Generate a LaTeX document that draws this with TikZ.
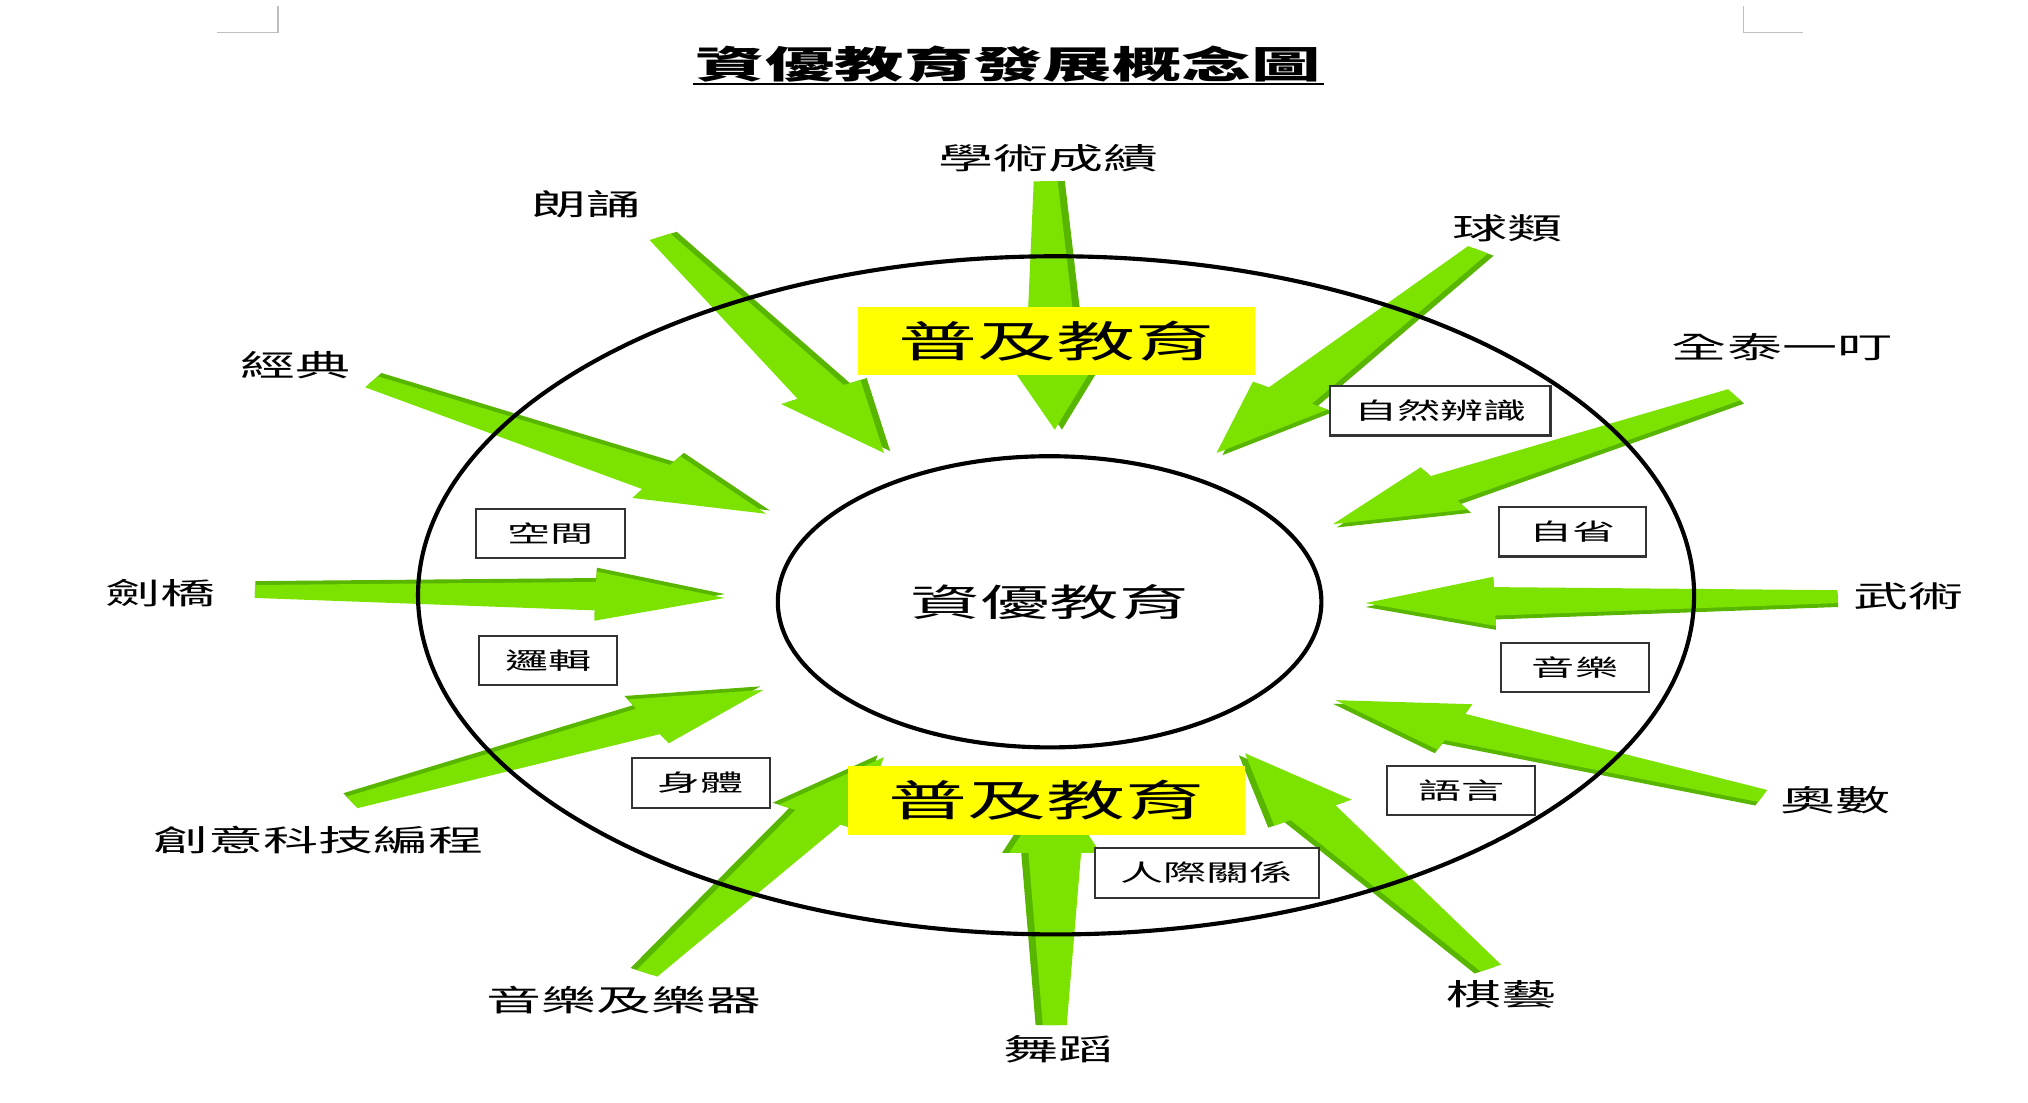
\documentclass[tikz,border=0pt]{standalone}
\usepackage{fontspec}
\newfontfamily\cjk[FakeStretch=1.85]{Noto Sans CJK TC}
\usetikzlibrary{calc,shapes.geometric}
\definecolor{arrowgreen}{RGB}{124,226,0}
\definecolor{arrowdark}{RGB}{88,182,0}
\definecolor{bandyellow}{RGB}{255,255,0}
% block arrow from tail #1 to tip #2 (unstretched frame)
\newcommand\greenarrow[2]{%
  \fill[arrowdark] ($(#1)!4pt!90:(#2)$) -- ($(#2)!27pt!(#1)!7pt!-90:(#1)$) -- ($(#2)!27pt!(#1)!11pt!-90:(#1)$) -- ($(#2)!1.5pt!-90:(#1)$) -- ($(#2)!27pt!(#1)!8pt!90:(#1)$) -- ($(#2)!27pt!(#1)!4pt!90:(#1)$) -- ($(#1)!1pt!-90:(#2)$) -- cycle;
  \fill[arrowgreen] ($(#1)!2.5pt!90:(#2)$) -- ($(#2)!27pt!(#1)!5.5pt!-90:(#1)$) -- ($(#2)!27pt!(#1)!9.5pt!-90:(#1)$) -- (#2) -- ($(#2)!27pt!(#1)!9.5pt!90:(#1)$) -- ($(#2)!27pt!(#1)!5.5pt!90:(#1)$) -- ($(#1)!2.5pt!-90:(#2)$) -- cycle;
}
\begin{document}
\begin{tikzpicture}[x=0.5pt,y=-0.5pt]
        \tikzstyle{topic}=[font=\cjk\fontsize{11.5}{13}\selectfont,inner sep=1pt]
        \tikzstyle{skill}=[draw=black!80,line width=0.8pt,fill=white,minimum height=19pt,inner sep=1pt,font=\cjk\fontsize{9}{10}\selectfont]
        \tikzstyle{band}=[fill=bandyellow,minimum width=153.5pt,minimum height=26.5pt,inner sep=0pt,font=\cjk\fontsize{16.5}{18}\selectfont]
        \tikzstyle{ring}=[draw=black,ellipse,line width=1.6pt,inner sep=0pt]
        \useasboundingbox (0,0) rectangle (1567,852);

        % page corner marks
        \draw[black!25,line width=0.6pt] (168,25) -- (215,25) -- (215,5);
        \draw[black!25,line width=0.6pt] (1347,5) -- (1347,25) -- (1393,25);

        % title
        \node[font=\cjk\bfseries\fontsize{14.5}{16}\selectfont,inner sep=1pt] (title) at (779,50) {資優教育發展概念圖};
        \draw[line width=0.8pt] ([yshift=1pt]title.south west) -- ([yshift=1pt]title.south east);

        % arrows, drawn in the unstretched frame
        \begin{scope}[transform canvas={xscale=1.85},x=0.27027pt]
                \foreach \name/\tx/\ty/\hx/\hy in {xueshu/808/140/815/332, langsong/510/183/683/350,
                        qiulei/1142/193/940/350, jingdian/287/295/592/397, quantai/1340/305/1030/405,
                        jianqiao/197/457/560/462, wushu/1420/461/1055/466, chuangyi/272/620/590/533,
                        aoshu/1362/615/1032/541, yinyue/500/752/683/585, wudao/815/792/815/605,
                        qiyi/1152/748/962/582}{
                        \coordinate (\name-t) at (\tx,\ty);
                        \coordinate (\name-h) at (\hx,\hy);
                        \greenarrow{\name-t}{\name-h}
                }
        \end{scope}

        % rings
        \node[ring,minimum width=493pt,minimum height=262pt] (outer) at (816,460) {};
        \node[ring,minimum width=210pt,minimum height=112.5pt,font=\cjk\fontsize{14.5}{16}\selectfont] (core) at (811,465) {資優教育};

        % general education bands
        \node[band] (band-top) at (816.5,263.5) {普及教育};
        \node[band] (band-bottom) at (808.5,618.5) {普及教育};

        % intelligences
        \foreach \name/\x/\y/\w/\txt in {naturalist/1113/317.5/85/自然辨識, spatial/425.5/412.5/57.5/空間,
                intrapersonal/1215/411/57/自省, logical/423.5/510.5/53.5/邏輯, musical/1217/516/57/音樂,
                bodily/541.5/605/53.5/身體, linguistic/1129/611/57/語言, interpersonal/932.5/674.5/86.5/人際關係}
                \node[skill,minimum width=\w pt] (\name) at (\x,\y) {\txt};

        % programmes
        \foreach \name/\x/\y/\txt in {xueshu/810/122/學術成績, langsong/453/158/朗誦, qiulei/1165/176/球類,
                jingdian/228/282/經典, quantai/1377/268/全泰一叮, jianqiao/124/458/劍橋, wushu/1475/461/武術,
                chuangyi/246/649/創意科技編程, aoshu/1418/618/奧數, yinyue/482/773/音樂及樂器,
                wudao/818/811/舞蹈, qiyi/1160/768/棋藝}
                \node[topic] (\name) at (\x,\y) {\txt};
\end{tikzpicture}
\end{document}
